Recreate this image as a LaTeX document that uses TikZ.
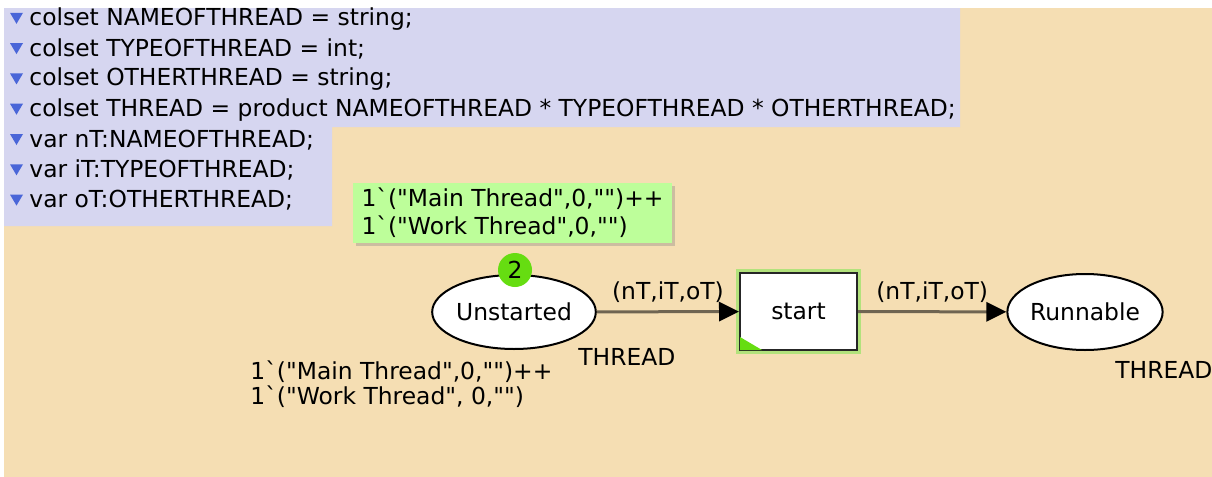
\documentclass[tikz,border=0pt]{standalone}
\usepackage{fontspec}
\setmainfont{DejaVu Sans}[Ligatures=TeXOff]
\usepackage{tikz}
\usetikzlibrary{calc}
\usetikzlibrary{arrows.meta}
\usetikzlibrary{shadows}
\usetikzlibrary{shapes.geometric}
\definecolor{pagebeige}{HTML}{F5DEB3}
\definecolor{decllavender}{HTML}{D6D6F0}
\definecolor{declblue}{HTML}{4A66D8}
\definecolor{markgreen}{HTML}{BDFE9A}
\definecolor{tokengreen}{HTML}{66DD11}
\definecolor{glowgreen}{HTML}{B2E27C}
\definecolor{arcbrown}{HTML}{6F6552}
\tikzset{
  place/.style={ellipse, draw=black, line width=1pt, fill=white, inner sep=0pt},
  trans/.style={rectangle, draw=black!85, line width=1pt, fill=white, inner sep=0pt,
    minimum width=58.5pt, minimum height=38.5pt,
    preaction={draw=glowgreen, line width=4pt}},
  arc/.style={draw=arcbrown, line width=1.5pt, -{Triangle[length=10pt, width=9.5pt, color=black]}},
  marking/.style={fill=markgreen, inner sep=0pt, align=left, minimum width=159.5pt,
    minimum height=30pt, drop shadow={shadow xshift=1.5pt, shadow yshift=-1.5pt, opacity=0.35}},
  token/.style={circle, fill=tokengreen, inner sep=0pt, minimum size=17pt},
  label/.style={inner sep=0pt}
}

\begin{document}
\begin{tikzpicture}[x=0.5pt, y=-0.5pt, font=\fontsize{11.7}{14}\selectfont]
  \useasboundingbox (0,0) rectangle (1212,477);
  \fill[white] (0,0) rectangle (1212,477);
  \fill[pagebeige] (4,8) rectangle (1212,477);

  % declarations
  \fill[decllavender] (4,8) -- (960,8) -- (960,127) -- (332,127) -- (332,226) -- (4,226) -- cycle;
  \foreach \txt [count=\i] in {colset NAMEOFTHREAD = string;, colset TYPEOFTHREAD = int;,
      colset OTHERTHREAD = string;, colset THREAD = product NAMEOFTHREAD * TYPEOFTHREAD * OTHERTHREAD;,
      var nT:NAMEOFTHREAD;, var iT:TYPEOFTHREAD;, var oT:OTHERTHREAD;} {
    \node[label, anchor=west] (decl\i) at (29, {-11.5+30.3*\i}) {\txt};
    \fill[declblue] ($(decl\i.west)+(-19,-6)$) -- ++(13,0) -- ++(-6.5,11) -- cycle;
  }

  % net
  \node[place, minimum width=79pt, minimum height=37pt] (unstarted) at (514,312) {Unstarted};
  \node[trans] (start) at (798.5,311.5) {start};
  \fill[tokengreen] ($(start.south west)+(1,-1)$) -- ++(22,0) -- ++(-22,-13) -- cycle;
  \node[place, minimum width=73pt, minimum height=38pt] (runnable) at (1085,312) {Runnable};

  \draw[arc] (unstarted) -- (start) node[midway, above=0.5pt] (inlabel) {(nT,iT,oT)};
  \draw[arc] (start) -- (runnable) node[midway, above=0.5pt] (outlabel) {(nT,iT,oT)};

  \node[label, anchor=west] (unstype) at (578,357) {THREAD};
  \node[label, anchor=west] (runtype) at (1115,370) {THREAD};
  \node[label, anchor=west, align=left, font=\fontsize{11.7}{12.5}\selectfont] (initmark) at (250,384.5)
    {1`("Main Thread",0,"")++\\1`("Work Thread", 0,"")};

  \node[marking] (curmark) at (512.5,213)
    {1`("Main Thread",0,"")++\\1`("Work Thread",0,"")};
  \node[token] (count) at (515,270) {2};
\end{tikzpicture}
\end{document}
